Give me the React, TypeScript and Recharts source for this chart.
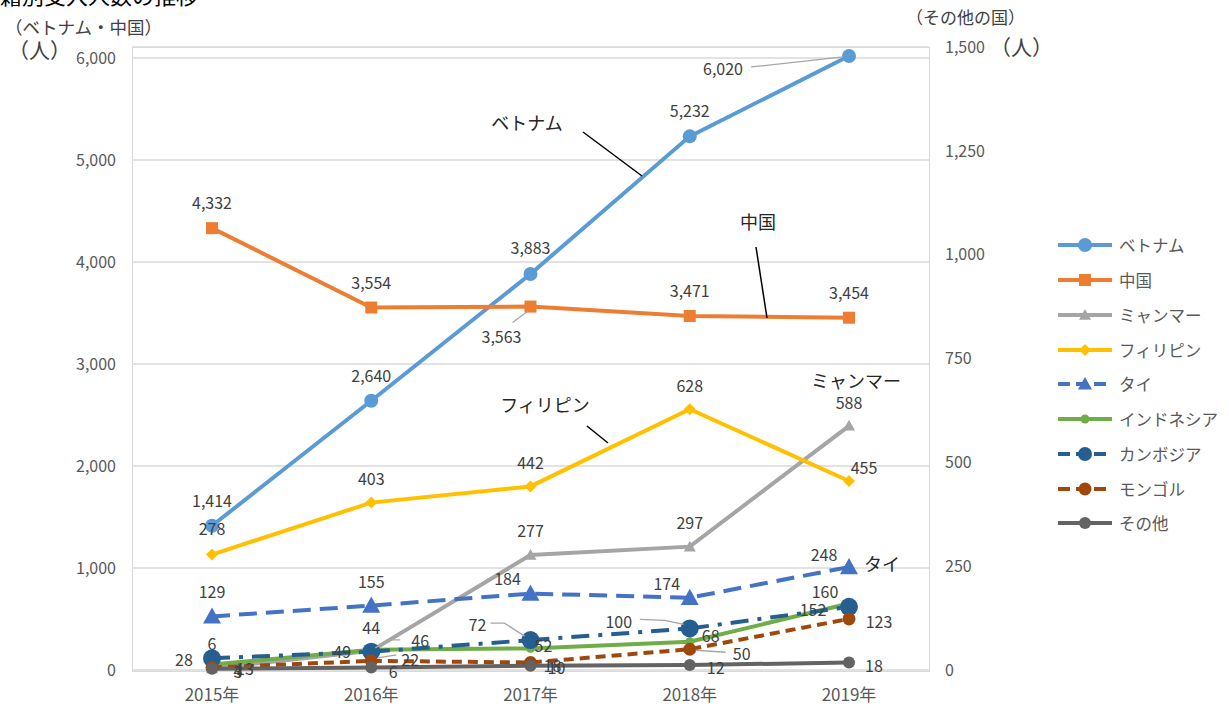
import * as React from "react";
import { CartesianGrid, LabelList, Line, LineChart, XAxis, YAxis } from "recharts";

const years = ["2015年", "2016年", "2017年", "2018年", "2019年"];
const vietnam = [1414, 2640, 3883, 5232, 6020];
const china = [4332, 3554, 3563, 3471, 3454];
const myanmar = [4, 46, 277, 297, 588];
const philippines = [278, 403, 442, 628, 455];
const thai = [129, 155, 184, 174, 248];
const indonesia = [13, 49, 52, 68, 160];
const cambodia = [28, 44, 72, 100, 152];
const mongolia = [6, 22, 18, 50, 123];
const others = [3, 6, 10, 12, 18];

const leftTicks = [0, 1000, 2000, 3000, 4000, 5000, 6000];
const rightTicks = [0, 250, 500, 750, 1000, 1250, 1500];

type Marker = "circle" | "square" | "triangle" | "diamond";
// label placement: [dx, dy, optional leader polyline relative to the point]
type LabelPos = [number, number, number[]?];

type Series = {
  key: string;
  name: string;
  axis: "left" | "right";
  values: number[];
  color: string;
  dash?: string;
  marker: Marker;
  size: number;
  labels: LabelPos[];
};

const series: Series[] = [
  {
    key: "vietnam", name: "ベトナム", axis: "left", values: vietnam, color: "#5b9bd5", marker: "circle", size: 7,
    labels: [[0, -26], [0, -26], [0, -27], [0, -26], [-126, 12, [-98, 11, -6, 1]]],
  },
  {
    key: "china", name: "中国", axis: "left", values: china, color: "#ed7d31", marker: "square", size: 6,
    labels: [[0, -26], [0, -26], [-29, 29, [-18, 16, -3, 5]], [0, -26], [0, -26]],
  },
  {
    key: "myanmar", name: "ミャンマー", axis: "right", values: myanmar, color: "#a5a5a5", marker: "triangle", size: 6,
    labels: [[26, 2], [49, -11, [4, -3, 17, -11, 29, -11]], [0, -25], [0, -25], [0, -24]],
  },
  {
    key: "philippines", name: "フィリピン", axis: "right", values: philippines, color: "#ffc000", marker: "diamond", size: 6,
    labels: [[0, -27], [0, -25], [0, -24], [0, -24], [15, -14]],
  },
  {
    key: "thai", name: "タイ", axis: "right", values: thai, color: "#4472c4", dash: "18 9", marker: "triangle", size: 9,
    labels: [[0, -25], [0, -25], [-23, -16], [-23, -15], [-25, -13]],
  },
  {
    key: "indonesia", name: "インドネシア", axis: "right", values: indonesia, color: "#70ad47", marker: "circle", size: 4.5,
    labels: [[33, 3], [-29, 1], [13, -3], [21, -7], [-24, -13]],
  },
  {
    key: "cambodia", name: "カンボジア", axis: "right", values: cambodia, color: "#255e91", dash: "18 9 4 9", marker: "circle", size: 9,
    labels: [[-28, 1], [0, -25], [-53, -16, [-6, -4, -26, -17, -40, -17]], [-71, -7, [-6, -4, -25, -8, -50, -9]], [-36, 2]],
  },
  {
    key: "mongolia", name: "モンゴル", axis: "right", values: mongolia, color: "#9e480e", dash: "10 6", marker: "circle", size: 6.5,
    labels: [[0, -25], [39, -2, [7, -3, 25, -6]], [22, 2], [52, 4, [6, 1, 36, 3]], [30, 2]],
  },
  {
    key: "others", name: "その他", axis: "right", values: others, color: "#636363", marker: "circle", size: 6,
    labels: [[26, 2], [22, 3], [26, 1], [26, 2], [25, 2]],
  },
];

const data = years.map((year, i) => {
  const row: Record<string, string | number> = { year };
  series.forEach((s) => {
    row[s.key] = s.values[i];
  });
  return row;
});

const FONT = '"Noto Sans CJK JP", "Noto Sans", sans-serif';

function drawMarker(marker: Marker, cx: number, cy: number, r: number, color: string, key?: string) {
  if (marker === "square") {
    return <rect key={key} x={cx - r} y={cy - r} width={r * 2} height={r * 2} fill={color} />;
  }
  if (marker === "triangle") {
    const pts = `${cx},${cy - r} ${cx + r},${cy + r * 0.8} ${cx - r},${cy + r * 0.8}`;
    return <polygon key={key} points={pts} fill={color} />;
  }
  if (marker === "diamond") {
    const pts = `${cx},${cy - r} ${cx + r},${cy} ${cx},${cy + r} ${cx - r},${cy}`;
    return <polygon key={key} points={pts} fill={color} />;
  }
  return <circle key={key} cx={cx} cy={cy} r={r} fill={color} />;
}

const makeDot = (s: Series) => (props: any) => {
  const { cx, cy, index } = props;
  if (typeof cx !== "number" || typeof cy !== "number") return <g key={`${s.key}-d-${index}`} />;
  return drawMarker(s.marker, cx, cy, s.size, s.color, `${s.key}-d-${index}`);
};

const makeLabel = (s: Series) => (props: any) => {
  const vb = props.viewBox || {};
  const x = Number(vb.x ?? props.x);
  const y = Number(vb.y ?? props.y);
  const value = Number(props.value);
  const idx = typeof props.index === "number" ? props.index : s.values.indexOf(value);
  const pos = s.labels[idx];
  if (!pos || isNaN(x) || isNaN(y)) return null;
  const [dx, dy, leader] = pos;
  let pts = "";
  if (leader) {
    for (let k = 0; k < leader.length; k += 2) pts += `${x + leader[k]},${y + leader[k + 1]} `;
  }
  return (
    <g>
      {leader && <polyline points={pts} fill="none" stroke="#a6a6a6" strokeWidth={1.3} />}
      <text
        x={x + dx}
        y={y + dy}
        textAnchor="middle"
        dominantBaseline="central"
        fill="#404040"
        fontSize={16}
        fontFamily={FONT}
      >
        {value.toLocaleString("en-US")}
      </text>
    </g>
  );
};

function LegendIcon({ s }: { s: Series }) {
  return (
    <svg width={56} height={20} style={{ display: "block" }}>
      <line x1={1} y1={10} x2={55} y2={10} stroke={s.color} strokeWidth={4} strokeDasharray={s.dash ? "12 6" : undefined} />
      {drawMarker(s.marker, 28, 10, Math.min(s.size, 7), s.color)}
    </svg>
  );
}

export default function App() {
  return (
    <div
      style={{
        position: "absolute",
        left: 0,
        top: 0,
        width: 1229,
        height: 704,
        overflow: "hidden",
        background: "#fff",
        fontFamily: FONT,
        color: "#404040",
      }}
    >
      <div style={{ position: "absolute", left: -22, top: -17, fontSize: 22, lineHeight: 1, color: "#000", whiteSpace: "nowrap" }}>
        国籍別受入人数の推移
      </div>
      <div style={{ position: "absolute", left: 5, top: 16, fontSize: 17.5, lineHeight: 1.3, whiteSpace: "nowrap" }}>
        （ベトナム・中国）
      </div>
      <div style={{ position: "absolute", left: 8, top: 36, fontSize: 21, lineHeight: 1.3, whiteSpace: "nowrap" }}>
        （人）
      </div>
      <div style={{ position: "absolute", left: 906, top: 6, fontSize: 17, lineHeight: 1.3, whiteSpace: "nowrap" }}>
        （その他の国）
      </div>
      <div style={{ position: "absolute", left: 990, top: 33, fontSize: 21, lineHeight: 1.3, whiteSpace: "nowrap" }}>
        （人）
      </div>

      <div
        style={{
          position: "absolute",
          left: 132,
          top: 47,
          width: 796,
          height: 623,
          border: "1.5px solid #d9d9d9",
        }}
      />

      <div style={{ position: "absolute", left: 0, top: 0 }}>
        <LineChart width={1229} height={704} data={data} margin={{ top: 47, right: 0, bottom: 0, left: 0 }}>
          <CartesianGrid yAxisId="left" vertical={false} stroke="#d9d9d9" strokeWidth={1.5} />
          <XAxis
            dataKey="year"
            axisLine={false}
            tickLine={false}
            tickSize={0}
            tickMargin={19}
            height={34}
            padding={{ left: 80, right: 80 }}
            tick={{ fontSize: 17, fill: "#595959" }}
          />
          <YAxis
            yAxisId="left"
            domain={[0, 6108]}
            ticks={leftTicks}
            interval={0}
            width={132}
            axisLine={false}
            tickLine={false}
            tickSize={0}
            tickMargin={16}
            tick={{ fontSize: 16, fill: "#595959" }}
            tickFormatter={(v: number) => v.toLocaleString("en-US")}
          />
          <YAxis
            yAxisId="right"
            orientation="right"
            domain={[0, 1500]}
            ticks={rightTicks}
            interval={0}
            width={300}
            axisLine={false}
            tickLine={false}
            tickSize={0}
            tickMargin={16}
            tick={{ fontSize: 16, fill: "#595959" }}
            tickFormatter={(v: number) => v.toLocaleString("en-US")}
          />
          {series.map((s) => (
            <Line
              key={s.key}
              yAxisId={s.axis}
              dataKey={s.key}
              name={s.name}
              type="linear"
              stroke={s.color}
              strokeWidth={4}
              strokeDasharray={s.dash}
              dot={makeDot(s)}
              activeDot={false}
              isAnimationActive={false}
            >
              <LabelList dataKey={s.key} content={makeLabel(s)} />
            </Line>
          ))}
        </LineChart>
      </div>

      <svg width={1229} height={704} style={{ position: "absolute", left: 0, top: 0, pointerEvents: "none" }}>
        <g fill="#262626" fontSize={18} fontFamily={FONT} textAnchor="middle" dominantBaseline="central">
          <text x={527} y={122}>ベトナム</text>
          <text x={758} y={221}>中国</text>
          <text x={545} y={404}>フィリピン</text>
          <text x={856} y={380}>ミャンマー</text>
          <text x={882} y={563}>タイ</text>
        </g>
        <g stroke="#000" strokeWidth={1.5}>
          <line x1={583} y1={132} x2={642} y2={176} />
          <line x1={756} y1={247} x2={767} y2={318} />
          <line x1={587} y1={426} x2={608} y2={443} />
        </g>
      </svg>

      <div style={{ position: "absolute", left: 1057, top: 228 }}>
        {series.map((s) => (
          <div key={s.key} style={{ display: "flex", alignItems: "center", height: 34.75 }}>
            <LegendIcon s={s} />
            <span style={{ marginLeft: 6, fontSize: 16.5, color: "#595959", whiteSpace: "nowrap" }}>{s.name}</span>
          </div>
        ))}
      </div>
    </div>
  );
}
